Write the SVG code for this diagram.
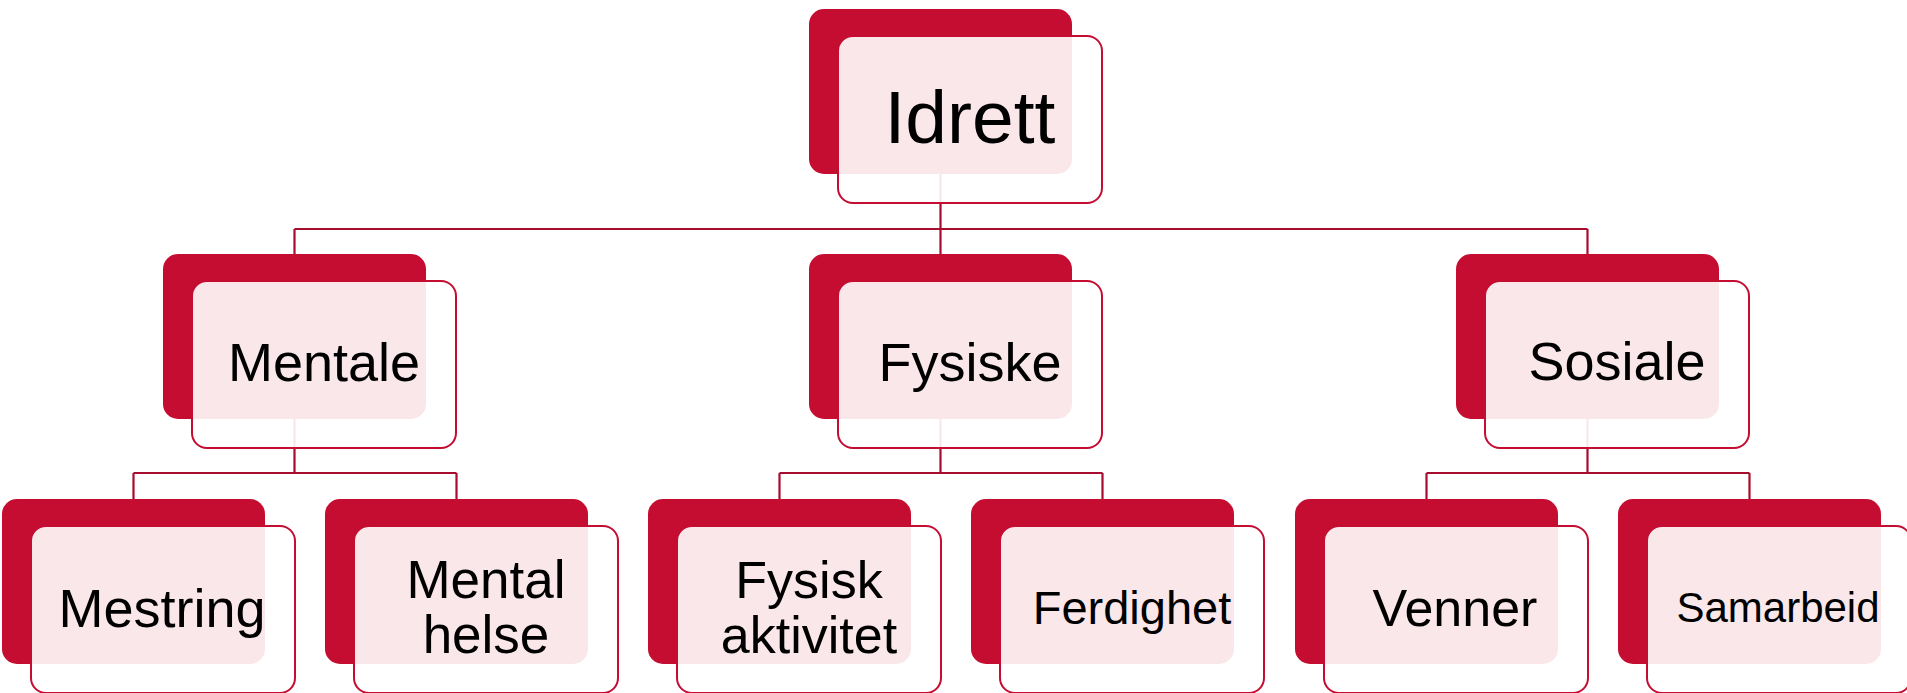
<svg xmlns="http://www.w3.org/2000/svg" width="1907" height="693" viewBox="0 0 1907 693">
<style>
.back{fill:#C40D31;}
.front{fill:#FFFFFF;fill-opacity:0.9;stroke:#C40D31;stroke-width:2;}
.conn{fill:none;stroke:#A80C2E;stroke-width:2.2;}
text{font-family:"Liberation Sans",Arial,sans-serif;fill:#000;text-anchor:middle;}
</style>
<rect width="1907" height="693" fill="#FFFFFF"/>
<g id="connectors">
<path class="conn" d="M940.5,174 V229 M294.5,229 H1587.5 M294.5,229 V254 M940.5,229 V254 M1587.5,229 V254"/>
<path class="conn" d="M294.5,419 V473 M133.5,473 H456.5 M133.5,473 V499 M456.5,473 V499"/>
<path class="conn" d="M940.5,419 V473 M779.5,473 H1102.5 M779.5,473 V499 M1102.5,473 V499"/>
<path class="conn" d="M1587.5,419 V473 M1426.5,473 H1749.5 M1426.5,473 V499 M1749.5,473 V499"/>
</g>
<g id="node-idrett">
<rect class="back" x="809" y="9" width="263" height="165" rx="15"/>
<rect class="front" x="838" y="36" width="264" height="167" rx="15"/>
<text x="970" y="143" font-size="75">Idrett</text>
</g>
<g id="node-mentale">
<rect class="back" x="163" y="254" width="263" height="165" rx="15"/>
<rect class="front" x="192" y="281" width="264" height="167" rx="15"/>
<text x="324" y="381" font-size="54">Mentale</text>
</g>
<g id="node-fysiske">
<rect class="back" x="809" y="254" width="263" height="165" rx="15"/>
<rect class="front" x="838" y="281" width="264" height="167" rx="15"/>
<text x="970" y="381" font-size="54">Fysiske</text>
</g>
<g id="node-sosiale">
<rect class="back" x="1456" y="254" width="263" height="165" rx="15"/>
<rect class="front" x="1485" y="281" width="264" height="167" rx="15"/>
<text x="1617" y="380" font-size="54">Sosiale</text>
</g>
<g id="node-mestring">
<rect class="back" x="2" y="499" width="263" height="165" rx="15"/>
<rect class="front" x="31" y="526" width="264" height="167" rx="15"/>
<text x="162" y="627" font-size="54">Mestring</text>
</g>
<g id="node-mental-helse">
<rect class="back" x="325" y="499" width="263" height="165" rx="15"/>
<rect class="front" x="354" y="526" width="264" height="167" rx="15"/>
<text x="486" y="598" font-size="53">Mental</text>
<text x="486" y="653" font-size="53">helse</text>
</g>
<g id="node-fysisk-aktivitet">
<rect class="back" x="648" y="499" width="263" height="165" rx="15"/>
<rect class="front" x="677" y="526" width="264" height="167" rx="15"/>
<text x="809" y="598" font-size="52">Fysisk</text>
<text x="809" y="653" font-size="52">aktivitet</text>
</g>
<g id="node-ferdighet">
<rect class="back" x="971" y="499" width="263" height="165" rx="15"/>
<rect class="front" x="1000" y="526" width="264" height="167" rx="15"/>
<text x="1132" y="624" font-size="47">Ferdighet</text>
</g>
<g id="node-venner">
<rect class="back" x="1295" y="499" width="263" height="165" rx="15"/>
<rect class="front" x="1324" y="526" width="264" height="167" rx="15"/>
<text x="1455" y="626" font-size="52">Venner</text>
</g>
<g id="node-samarbeid">
<rect class="back" x="1618" y="499" width="263" height="165" rx="15"/>
<rect class="front" x="1647" y="526" width="264" height="167" rx="15"/>
<text x="1778" y="622" font-size="42">Samarbeid</text>
</g>
</svg>
